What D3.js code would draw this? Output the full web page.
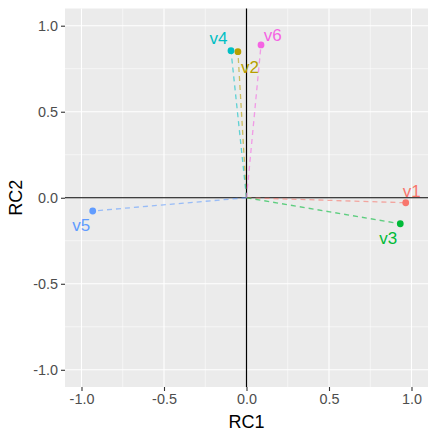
<!DOCTYPE html>
<html>
<head>
<meta charset="utf-8">
<script src="https://cdn.jsdelivr.net/npm/d3@7"></script>
<style>
  body { margin: 0; background: #fff; }
  svg { display: block; font-family: "Liberation Sans", Arial, sans-serif; }
</style>
</head>
<body>
<script>
// loadings
var vars = ["v1", "v2", "v3", "v4", "v5", "v6"];
var rc1 = [0.965, -0.052, 0.932, -0.094, -0.932, 0.088];
var rc2 = [-0.029, 0.849, -0.151, 0.855, -0.077, 0.888];
// label nudges (data units), as ggplot nudge_x / nudge_y
var nudgeX = [0.036, 0.073, -0.073, -0.076, -0.07, 0.071];
var nudgeY = [0.07, -0.087, -0.081, 0.073, -0.081, 0.06];
var colors = ["#F8766D", "#B79F00", "#00BA38", "#00BFC4", "#619CFF", "#F564E3"];
var ticks = [-1, -0.5, 0, 0.5, 1];
var minorTicks = [-0.75, -0.25, 0.25, 0.75];

var width = 437, height = 437;
var pLeft = 65, pRight = 428, pTop = 8.5, pBottom = 387;

var svg = d3.select("body").append("svg")
    .attr("width", width)
    .attr("height", height);

var x = d3.scaleLinear().domain([-1.1, 1.1]).range([pLeft, pRight]);
var y = d3.scaleLinear().domain([-1.1, 1.1]).range([pBottom, pTop]);

// panel
svg.append("rect")
    .attr("x", pLeft).attr("y", pTop)
    .attr("width", pRight - pLeft).attr("height", pBottom - pTop)
    .attr("fill", "#EBEBEB");

// minor grid
svg.selectAll("line.minx").data(minorTicks).enter().append("line")
    .attr("x1", function(d) { return x(d); }).attr("x2", function(d) { return x(d); })
    .attr("y1", pTop).attr("y2", pBottom)
    .attr("stroke", "#fff").attr("stroke-width", 0.55);
svg.selectAll("line.miny").data(minorTicks).enter().append("line")
    .attr("y1", function(d) { return y(d); }).attr("y2", function(d) { return y(d); })
    .attr("x1", pLeft).attr("x2", pRight)
    .attr("stroke", "#fff").attr("stroke-width", 0.55);

// major grid
svg.selectAll("line.majx").data(ticks).enter().append("line")
    .attr("x1", function(d) { return x(d); }).attr("x2", function(d) { return x(d); })
    .attr("y1", pTop).attr("y2", pBottom)
    .attr("stroke", "#fff").attr("stroke-width", 1.1);
svg.selectAll("line.majy").data(ticks).enter().append("line")
    .attr("y1", function(d) { return y(d); }).attr("y2", function(d) { return y(d); })
    .attr("x1", pLeft).attr("x2", pRight)
    .attr("stroke", "#fff").attr("stroke-width", 1.1);

// zero lines
svg.append("line")
    .attr("x1", x(0)).attr("x2", x(0)).attr("y1", pTop).attr("y2", pBottom)
    .attr("stroke", "#000").attr("stroke-width", 1.2);
svg.append("line")
    .attr("x1", pLeft).attr("x2", pRight).attr("y1", y(0)).attr("y2", y(0))
    .attr("stroke", "#000").attr("stroke-width", 1.2);

// dashed segments from origin
svg.selectAll("line.seg").data(vars).enter().append("line")
    .attr("x1", x(0)).attr("y1", y(0))
    .attr("x2", function(d, i) { return x(rc1[i]); })
    .attr("y2", function(d, i) { return y(rc2[i]); })
    .attr("stroke", function(d, i) { return colors[i]; })
    .attr("stroke-opacity", 0.6)
    .attr("stroke-width", 1.3)
    .attr("stroke-dasharray", "5,4");

// points
svg.selectAll("circle").data(vars).enter().append("circle")
    .attr("cx", function(d, i) { return x(rc1[i]); })
    .attr("cy", function(d, i) { return y(rc2[i]); })
    .attr("r", 3.4)
    .attr("fill", function(d, i) { return colors[i]; });

// labels
svg.selectAll("text.lab").data(vars).enter().append("text")
    .attr("x", function(d, i) { return x(rc1[i] + nudgeX[i]); })
    .attr("y", function(d, i) { return y(rc2[i] + nudgeY[i]); })
    .attr("dy", "0.35em")
    .attr("text-anchor", "middle")
    .attr("font-size", "17px")
    .attr("fill", function(d, i) { return colors[i]; })
    .text(function(d) { return d; });

// axes
var fmt = function(d) { return d3.format(".1f")(d).replace("\u2212", "-"); };
var xAxis = d3.axisBottom(x).tickValues(ticks).tickFormat(fmt).tickSize(4).tickPadding(3);
var yAxis = d3.axisLeft(y).tickValues(ticks).tickFormat(fmt).tickSize(4).tickPadding(3);

var gx = svg.append("g").attr("transform", "translate(0," + pBottom + ")").call(xAxis);
var gy = svg.append("g").attr("transform", "translate(" + pLeft + ",0)").call(yAxis);

[gx, gy].forEach(function(g) {
  g.select(".domain").remove();
  g.selectAll(".tick line").attr("stroke", "#333").attr("stroke-width", 1.1);
  g.selectAll(".tick text")
    .attr("fill", "#4D4D4D")
    .attr("font-size", "14.4px")
    .attr("font-family", "Liberation Sans, Arial, sans-serif");
});

// axis titles
svg.append("text")
    .attr("x", (pLeft + pRight) / 2).attr("y", 428)
    .attr("text-anchor", "middle")
    .attr("font-size", "18px")
    .attr("fill", "#000")
    .text("RC1");
svg.append("text")
    .attr("transform", "translate(22," + ((pTop + pBottom) / 2) + ") rotate(-90)")
    .attr("text-anchor", "middle")
    .attr("font-size", "18px")
    .attr("fill", "#000")
    .text("RC2");
</script>
</body>
</html>
